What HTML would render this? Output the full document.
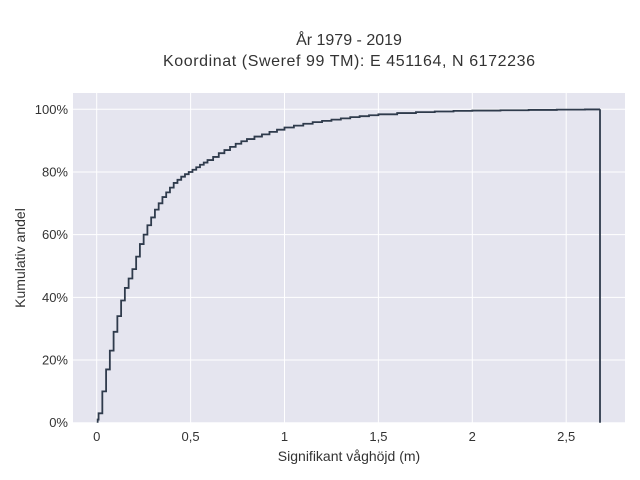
<!DOCTYPE html>
<html><head><meta charset="utf-8"><style>
body{margin:0;background:#fff;}
svg{display:block;font-family:"Liberation Sans",sans-serif;}
</style></head><body>
<svg id="chart" width="640" height="480" viewBox="0 0 640 480">
<rect x="0" y="0" width="640" height="480" fill="#fff"/>
<rect x="73" y="93" width="552" height="330" fill="#e5e5ef"/>
<g id="grid"></g>
<g id="series"></g>
<g id="ticks"></g>
<text x="349" y="45" text-anchor="middle" font-size="16" fill="#333">År 1979 - 2019</text>
<text x="349" y="66" text-anchor="middle" font-size="16" fill="#333" textLength="372">Koordinat (Sweref 99 TM): E 451164, N 6172236</text>
<text x="349" y="461" text-anchor="middle" font-size="14" fill="#333">Signifikant våghöjd (m)</text>
<text x="25" y="258" text-anchor="middle" font-size="14" fill="#333" transform="rotate(-90 25 258)">Kumulativ andel</text>
</svg>
<script>
const waveHeights=[0.005,0.01,0.03,0.05,0.07,0.09,0.11,0.13,0.15,0.17,0.19,0.21,0.23,0.25,0.27,0.29,0.31,0.33,0.35,0.37,0.39,0.41,0.43,0.45,0.47,0.49,0.51,0.53,0.55,0.57,0.59,0.62,0.65,0.68,0.71,0.74,0.77,0.80,0.84,0.88,0.92,0.96,1.00,1.05,1.10,1.15,1.20,1.25,1.30,1.35,1.40,1.45,1.50,1.60,1.70,1.80,1.90,2.00,2.15,2.30,2.45,2.60,2.68];
const cumShare=[0.01,0.03,0.10,0.17,0.23,0.29,0.34,0.39,0.43,0.46,0.49,0.53,0.57,0.60,0.63,0.655,0.68,0.70,0.72,0.735,0.75,0.765,0.775,0.785,0.793,0.80,0.807,0.815,0.823,0.83,0.838,0.848,0.86,0.87,0.88,0.89,0.898,0.905,0.913,0.92,0.928,0.935,0.942,0.948,0.954,0.959,0.963,0.967,0.971,0.975,0.978,0.981,0.984,0.988,0.991,0.993,0.995,0.996,0.997,0.998,0.999,0.9995,1.0];
const xTickVals=[0,0.5,1,1.5,2,2.5];
const xTickLabels=["0","0,5","1","1,5","2","2,5"];
const yTickVals=[0,0.2,0.4,0.6,0.8,1.0];
const yTickLabels=["0%","20%","40%","60%","80%","100%"];
const NS="http://www.w3.org/2000/svg";
const xs=v=>96.7+v*187.8;
const ys=v=>422.7-v*313.4;
function mk(tag,attrs,parent){const e=document.createElementNS(NS,tag);for(const k in attrs)e.setAttribute(k,attrs[k]);parent.appendChild(e);return e;}
const grid=document.getElementById('grid'),ticks=document.getElementById('ticks'),series=document.getElementById('series');
xTickVals.forEach((v,i)=>{
 const l=mk('line',{x1:xs(v),x2:xs(v),y1:93,y2:423,stroke:'#fff','stroke-width':1},grid);
 
 
 const t=mk('text',{x:xs(v),y:441,'text-anchor':'middle','font-size':13,fill:'#333'},ticks);
 t.textContent=xTickLabels[i];
 
 
});
yTickVals.forEach((v,i)=>{
 const l=mk('line',{x1:73,x2:625,y1:ys(v),y2:ys(v),stroke:'#fff','stroke-width':1},grid);
 
 
 const t=mk('text',{x:68,y:ys(v)+4.5,'text-anchor':'end','font-size':13,fill:'#333'},ticks);
 t.textContent=yTickLabels[i];
 
 
});
let d='M'+xs(waveHeights[0])+','+ys(0)+' L'+xs(waveHeights[0])+','+ys(cumShare[0]);
for(let i=1;i<waveHeights.length;i++){d+=' H'+xs(waveHeights[i])+' V'+ys(cumShare[i]);}
d+=' V'+ys(0);
const p=mk('path',{d:d,fill:'none',stroke:'#2f3b4c','stroke-width':1.8},series);


</script>
</body></html>
